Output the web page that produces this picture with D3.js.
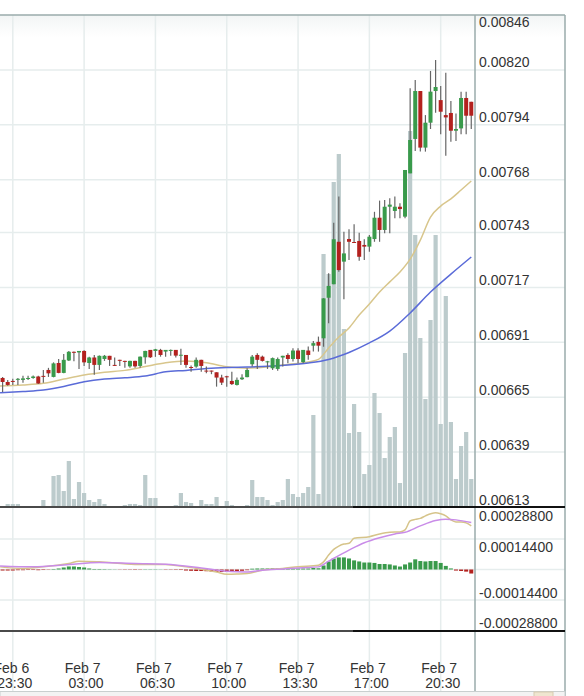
<!DOCTYPE html>
<html>
<head>
<meta charset="utf-8">
<script src="https://cdn.jsdelivr.net/npm/d3@7"></script>
<style>
  body { margin: 0; background: #fff; }
  svg { display: block; font-family: "Liberation Sans", Arial, sans-serif; }
</style>
</head>
<body>
<div id="chart"></div>
<script>
// 15 minute candles, first one at Feb 6 23:00
const startTime = new Date(2018, 1, 6, 23, 0);
const stepMin = 15;

const openP = [0.006741,0.006722,0.006727,0.006734,0.006732,0.006739,0.006741,0.006748,0.006751,0.006779,
  0.006746,0.006812,0.006765,0.006824,0.006865,0.006862,0.006869,0.006812,0.006838,0.006803,
  0.006831,0.006846,0.006803,0.006827,0.006822,0.006796,0.006822,0.006798,0.006839,0.006874,
  0.006869,0.006874,0.006866,0.006869,0.006874,0.006848,0.006850,0.006793,0.006795,0.006827,
  0.006776,0.006776,0.006768,0.006743,0.006749,0.006727,0.006708,0.006735,0.006745,0.006806,
  0.006850,0.006842,0.006815,0.006787,0.006784,0.006838,0.006850,0.006831,0.006871,0.006816,
  0.006871,0.006894,0.006912,0.006929,0.007121,0.007185,0.007386,0.007292,0.007399,0.007385,
  0.007390,0.007371,0.007363,0.007399,0.007500,0.007442,0.007552,0.007532,0.007552,0.007505,
  0.007710,0.007873,0.008100,0.007832,0.007950,0.008100,0.008057,0.007986,0.007996,0.007912,
  0.007923,0.008067,0.008049];
const highP = [0.006746,0.006732,0.006737,0.006741,0.006751,0.006751,0.006753,0.006751,0.006779,0.006789,
  0.006815,0.006831,0.006855,0.006869,0.006867,0.006869,0.006872,0.006841,0.006850,0.006848,
  0.006850,0.006846,0.006838,0.006827,0.006823,0.006823,0.006823,0.006843,0.006870,0.006874,
  0.006879,0.006879,0.006874,0.006876,0.006874,0.006879,0.006850,0.006800,0.006838,0.006827,
  0.006795,0.006776,0.006768,0.006756,0.006752,0.006771,0.006743,0.006759,0.006787,0.006850,
  0.006858,0.006847,0.006822,0.006838,0.006838,0.006846,0.006858,0.006882,0.006882,0.006874,
  0.006890,0.006916,0.006937,0.007119,0.007237,0.007476,0.007600,0.007434,0.007445,0.007469,
  0.007429,0.007398,0.007418,0.007528,0.007581,0.007584,0.007592,0.007600,0.007568,0.007726,
  0.008113,0.008152,0.008100,0.007986,0.008195,0.008247,0.008124,0.008187,0.008053,0.007994,
  0.008097,0.008097,0.008049];
const lowP = [0.006675,0.006704,0.006708,0.006708,0.006718,0.006732,0.006737,0.006713,0.006718,0.006746,
  0.006744,0.006763,0.006763,0.006822,0.006820,0.006784,0.006798,0.006784,0.006756,0.006779,
  0.006822,0.006798,0.006798,0.006798,0.006789,0.006789,0.006789,0.006789,0.006808,0.006836,
  0.006841,0.006842,0.006842,0.006846,0.006838,0.006803,0.006790,0.006771,0.006790,0.006771,
  0.006764,0.006759,0.006700,0.006708,0.006700,0.006708,0.006705,0.006732,0.006745,0.006795,
  0.006784,0.006819,0.006784,0.006779,0.006775,0.006795,0.006811,0.006819,0.006811,0.006811,
  0.006827,0.006866,0.006866,0.006889,0.007000,0.007185,0.007244,0.007114,0.007300,0.007382,
  0.007296,0.007300,0.007339,0.007386,0.007386,0.007426,0.007426,0.007497,0.007497,0.007497,
  0.007710,0.007816,0.007813,0.007813,0.007920,0.007997,0.007895,0.007794,0.007860,0.007863,
  0.007895,0.007895,0.007920];
const closeP = [0.006722,0.006708,0.006725,0.006737,0.006739,0.006741,0.006748,0.006715,0.006748,0.006763,
  0.006810,0.006765,0.006827,0.006865,0.006862,0.006869,0.006815,0.006838,0.006803,0.006846,
  0.006846,0.006827,0.006802,0.006823,0.006820,0.006822,0.006796,0.006842,0.006869,0.006839,
  0.006877,0.006850,0.006874,0.006874,0.006847,0.006851,0.006803,0.006791,0.006827,0.006798,
  0.006773,0.006773,0.006743,0.006719,0.006746,0.006712,0.006732,0.006743,0.006779,0.006842,
  0.006827,0.006822,0.006820,0.006835,0.006831,0.006846,0.006831,0.006871,0.006831,0.006874,
  0.006850,0.006906,0.006894,0.007118,0.007177,0.007398,0.007252,0.007331,0.007386,0.007382,
  0.007315,0.007363,0.007410,0.007500,0.007442,0.007552,0.007562,0.007552,0.007541,0.007726,
  0.007868,0.008100,0.007832,0.007950,0.008097,0.008119,0.008002,0.007975,0.007912,0.007920,
  0.008067,0.007983,0.007983];
const volume = [0,3,3,3,1,0,0,1,7,0.5,
  31,32,16,46,8,25,14,7,5,8,
  3,0,0,0,2,3,3,2,32,9,
  9,1,1,0,2,14,5,4,0,7,
  3,3,10,1,6,2,0,0,2,27,
  10,10,7,2,5,7,28,13,10,14,
  20,92,13,253,233,325,353,178,74,103,
  75,33,42,114,94,49,70,80,24,154,
  376,272,169,108,187,272,83,211,85,28,
  61,75,28];

// moving averages read at sampled candle positions
const fastIdx = [-0.5,4,8,12,16,20,24,28,32,36,40,44,48,52,56,60,62,64,66,68,70,72,74,76,78,80,82,84,86,88,90,92];
const fastMA = [0.006703,0.006708,0.006716,0.006736,0.006755,0.006768,0.006777,0.006795,0.006813,0.006821,
  0.006813,0.006794,0.006787,0.006794,0.006805,0.006817,0.006829,0.006883,0.006935,0.006978,
  0.007039,0.007091,0.007148,0.007196,0.007243,0.007304,0.007394,0.007503,0.007555,0.007589,
  0.007631,0.007674];
const slowIdx = [-0.5,4,8,12,16,20,24,28,32,36,40,44,48,52,56,60,64,68,72,76,80,84,88,92];
const slowMA = [0.006671,0.006677,0.006684,0.006701,0.006723,0.006736,0.006742,0.006750,0.006770,0.006777,
  0.006786,0.006791,0.006793,0.006796,0.006802,0.006812,0.006829,0.006862,0.006907,0.006963,
  0.007049,0.007148,0.007233,0.007314];

// MACD panel
const macdIdx = [-0.5,4,9,13,15,19,26,32,36,39,42,44,46,48,51,55,58,62,63,64,65,66,67,68,69,72,74,76,78,79,80,81,82,83,85,86,87,88,89,90,91,92];
const macdLine = [12.4e-6,4.8e-6,15.7e-6,28.5e-6,39.4e-6,36.1e-6,23.8e-6,23.8e-6,12.4e-6,1.4e-6,
  -11.4e-6,-22.3e-6,-21.4e-6,-19.0e-6,-3.3e-6,4.8e-6,13.3e-6,20.4e-6,36.1e-6,68.0e-6,
  95.1e-6,110.7e-6,120.2e-6,123.6e-6,147.3e-6,154.9e-6,167.8e-6,175.8e-6,177.3e-6,186.8e-6,
  229.5e-6,236.7e-6,241.4e-6,253.3e-6,267.6e-6,262.8e-6,253.3e-6,234.3e-6,224.8e-6,224.8e-6,
  220.0e-6,205.8e-6];
const signalIdx = [-0.5,6,13,19,26,32,39,44,48,51,55,59,62,64,68,71,74,77,79,82,85,87,89,92];
const signalLine = [17.1e-6,12.4e-6,23.8e-6,33.3e-6,28.5e-6,25.2e-6,7.6e-6,-8.1e-6,-11.4e-6,-3.3e-6,
  2.9e-6,8.6e-6,12.4e-6,39.4e-6,91.7e-6,126.4e-6,150.2e-6,167.8e-6,175.8e-6,205.8e-6,
  231.0e-6,237.6e-6,234.3e-6,221.5e-6];
const histogram = [-4.8e-6,-4.8e-6,-4.8e-6,-3.3e-6,-3.3e-6,-2.4e-6,-2.4e-6,-3.3e-6,-2.4e-6,-1.4e-6,
  2.4e-6,4.8e-6,9.5e-6,14.3e-6,14.3e-6,11.9e-6,9.5e-6,4.8e-6,2.4e-6,2.4e-6,
  1.9e-6,1.4e-6,1.0e-6,-1.0e-6,-1.4e-6,-1.4e-6,-1.9e-6,-1.4e-6,1.4e-6,1.4e-6,
  1.4e-6,1.0e-6,-1.4e-6,-1.4e-6,-1.9e-6,-2.4e-6,-4.8e-6,-6.2e-6,-7.1e-6,-7.1e-6,
  -8.1e-6,-9.5e-6,-10.9e-6,-11.9e-6,-11.9e-6,-11.9e-6,-9.5e-6,-6.2e-6,-3.3e-6,3.8e-6,
  4.8e-6,4.8e-6,4.8e-6,5.7e-6,6.2e-6,6.2e-6,4.8e-6,4.8e-6,4.8e-6,4.8e-6,
  4.8e-6,7.1e-6,5.7e-6,19e-6,38e-6,52e-6,57e-6,57e-6,52e-6,43e-6,
  38e-6,33e-6,33e-6,31e-6,26e-6,26e-6,24e-6,19e-6,14e-6,24e-6,
  33e-6,48e-6,40e-6,38e-6,40e-6,40e-6,31e-6,17e-6,5e-6,-5e-6,
  -7e-6,-10e-6,-19e-6];

const priceTicks = [0.00613,0.00639,0.00665,0.00691,0.00717,0.00743,0.00768,0.00794,0.00820,0.00846];
const macdTicks = [0.000288,0.000144,-0.000144,-0.000288];
const timeTicks = ["2018-02-06 23:30","2018-02-07 03:00","2018-02-07 06:30","2018-02-07 10:00",
  "2018-02-07 13:30","2018-02-07 17:00","2018-02-07 20:30"];

const W = 584, H = 696;
const plotR = 475, chartR = 565;
const mainTop = 15, mainBot = 507, macdBot = 631;

const tAt = k => new Date(startTime.getTime() + k * stepMin * 60000);

const svg = d3.select("#chart").append("svg")
  .attr("width", W).attr("height", H);

const defs = svg.append("defs");
const grad = defs.append("linearGradient").attr("id", "topfade")
  .attr("x1", 0).attr("y1", 0).attr("x2", 0).attr("y2", 1);
grad.append("stop").attr("offset", "0%").attr("stop-color", "#f2f5f5");
grad.append("stop").attr("offset", "100%").attr("stop-color", "#ffffff");
defs.append("clipPath").attr("id", "clipMain").append("rect")
  .attr("x", 0).attr("y", mainTop).attr("width", plotR).attr("height", mainBot - mainTop);
defs.append("clipPath").attr("id", "clipMacd").append("rect")
  .attr("x", 0).attr("y", mainBot).attr("width", plotR).attr("height", macdBot - mainBot);

svg.append("rect").attr("x", 0).attr("y", mainTop).attr("width", chartR).attr("height", 22)
  .attr("fill", "url(#topfade)");

const x = d3.scaleTime()
  .domain([new Date(2018, 1, 6, 22, 52, 20), new Date(2018, 1, 7, 22, 11)])
  .range([0, plotR]);
const y = d3.scaleLinear().domain([0.00613, 0.00846]).range([mainBot, mainTop]);
const yVol = d3.scaleLinear().domain([0, 400]).range([mainBot, 107]);
const yMacd = d3.scaleLinear().domain([-0.000288, 0.000288]).range([630.5, 508.5]);

const parseT = d3.timeParse("%Y-%m-%d %H:%M");
const tickDates = timeTicks.map(parseT);
const gridColor = "#e6eded";

// gridlines
const grid = svg.append("g");
grid.selectAll(".vg").data(tickDates).join("line")
  .attr("x1", d => x(d)).attr("x2", d => x(d))
  .attr("y1", mainTop).attr("y2", 691)
  .attr("stroke", gridColor).attr("stroke-width", 1.5);
grid.selectAll(".hg").data(priceTicks.slice(1, -1)).join("line")
  .attr("x1", 0).attr("x2", chartR)
  .attr("y1", d => y(d)).attr("y2", d => y(d))
  .attr("stroke", gridColor).attr("stroke-width", 1.5);
grid.selectAll(".mg").data([0.000144, 0, -0.000144]).join("line")
  .attr("x1", 0).attr("x2", chartR)
  .attr("y1", d => yMacd(d)).attr("y2", d => yMacd(d))
  .attr("stroke", gridColor).attr("stroke-width", 1.5);

const n = closeP.length;
const idx = d3.range(n);
const bw = 4;

// volume
const main = svg.append("g").attr("clip-path", "url(#clipMain)");
main.selectAll(".vol").data(idx).join("rect")
  .attr("x", i => x(tAt(i)) - bw / 2 - 0.1)
  .attr("width", bw + 0.2)
  .attr("y", i => yVol(volume[i]))
  .attr("height", i => mainBot - yVol(volume[i]))
  .attr("fill", "#bccbcc");

// moving averages
const maLine = d3.line()
  .x(d => x(tAt(d[0]))).y(d => y(d[1]))
  .curve(d3.curveMonotoneX);
main.append("path").datum(fastIdx.map((k, i) => [k, fastMA[i]]))
  .attr("fill", "none").attr("stroke", "#d8c68c").attr("stroke-width", 1.5).attr("d", maLine);
main.append("path").datum(slowIdx.map((k, i) => [k, slowMA[i]]))
  .attr("fill", "none").attr("stroke", "#5a6bd8").attr("stroke-width", 1.5).attr("d", maLine);

// candles
const up = "#399a4b", down = "#b3211e";
const candles = main.selectAll(".c").data(idx).join("g");
candles.append("line")
  .attr("x1", i => x(tAt(i))).attr("x2", i => x(tAt(i)))
  .attr("y1", i => y(highP[i])).attr("y2", i => y(lowP[i]))
  .attr("stroke", "#666").attr("stroke-width", 1.2);
candles.append("rect")
  .attr("x", i => x(tAt(i)) - bw / 2)
  .attr("width", bw)
  .attr("y", i => y(Math.max(openP[i], closeP[i])))
  .attr("height", i => Math.max(1, Math.abs(y(openP[i]) - y(closeP[i]))))
  .attr("fill", i => closeP[i] >= openP[i] ? up : down);

// MACD
const macdG = svg.append("g").attr("clip-path", "url(#clipMacd)");
macdG.selectAll(".h").data(idx).join("rect")
  .attr("x", i => x(tAt(i)) - bw / 2)
  .attr("width", bw)
  .attr("y", i => Math.min(yMacd(0), yMacd(histogram[i])))
  .attr("height", i => Math.abs(yMacd(histogram[i]) - yMacd(0)))
  .attr("fill", i => histogram[i] >= 0 ? up : down);
const mLine = d3.line()
  .x(d => x(tAt(d[0]))).y(d => yMacd(d[1]))
  .curve(d3.curveMonotoneX);
macdG.append("path").datum(macdIdx.map((k, i) => [k, macdLine[i]]))
  .attr("fill", "none").attr("stroke", "#d6c48a").attr("stroke-width", 1.5).attr("d", mLine);
macdG.append("path").datum(signalIdx.map((k, i) => [k, signalLine[i]]))
  .attr("fill", "none").attr("stroke", "#c98ce8").attr("stroke-width", 1.5).attr("d", mLine);

// frame
svg.append("line").attr("x1", 0).attr("x2", chartR).attr("y1", mainTop).attr("y2", mainTop)
  .attr("stroke", "#9aabab").attr("stroke-width", 1.5);
[plotR, chartR].forEach(xx => {
  svg.append("line").attr("x1", xx).attr("x2", xx).attr("y1", mainTop).attr("y2", H)
    .attr("stroke", "#9aabab").attr("stroke-width", 1.5);
});
[mainBot, macdBot].forEach(yy => {
  svg.append("line").attr("x1", 0).attr("x2", chartR).attr("y1", yy).attr("y2", yy)
    .attr("stroke", "#4a4a4a").attr("stroke-width", 2);
  svg.append("line").attr("x1", 353).attr("x2", chartR).attr("y1", yy).attr("y2", yy)
    .attr("stroke", "#111").attr("stroke-width", 2);
});

// price axis labels
const fmtP = d3.format(".5f");
svg.append("g").selectAll("text").data(priceTicks).join("text")
  .attr("x", 479)
  .attr("y", (d, i) => i === priceTicks.length - 1 ? y(d) + 12 : y(d) - 2.5)
  .attr("font-size", 14).attr("fill", "#333")
  .text(fmtP);

const fmtM = d3.format(".8f");
svg.append("g").selectAll("text").data(macdTicks).join("text")
  .attr("x", 479)
  .attr("y", d => d > 0 ? yMacd(d) + 12.5 : yMacd(d) - 2.5)
  .attr("font-size", 14).attr("fill", "#333")
  .text(d => fmtM(d).replace("−", "-"));

// time labels
const fmtDay = d3.timeFormat("%b %-d"), fmtHour = d3.timeFormat("%H:%M");
const tl = svg.append("g").attr("font-size", 14).attr("fill", "#333").attr("text-anchor", "middle");
tl.selectAll(".d").data(tickDates).join("text")
  .attr("x", d => x(d) - 1.5).attr("y", 672.5).text(fmtDay);
tl.selectAll(".t").data(tickDates).join("text")
  .attr("x", d => x(d) + 2).attr("y", 688).text(fmtHour);

// scrollbar strip
svg.append("rect").attr("x", 0).attr("y", 691.5).attr("width", chartR).attr("height", 8)
  .attr("fill", "#f3f3f3").attr("stroke", "#c9cfcf");
svg.append("rect").attr("x", 534).attr("y", 692).attr("width", 19).attr("height", 8)
  .attr("fill", "#efe6d0").attr("stroke", "#d8ccb0");
</script>
</body>
</html>
